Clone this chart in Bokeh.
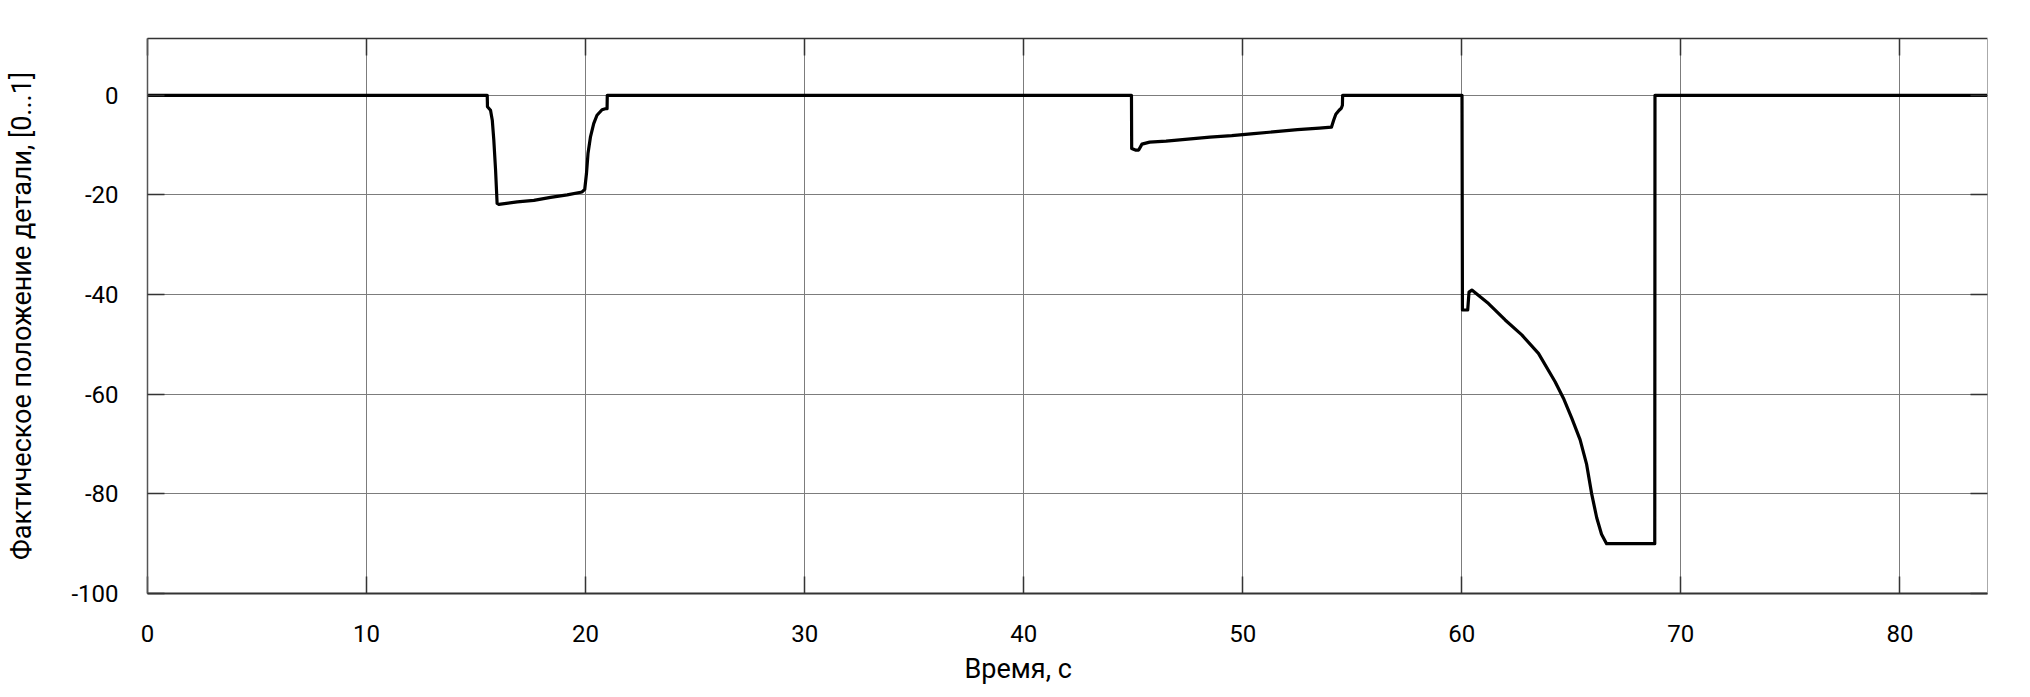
from bokeh.plotting import figure
from bokeh.models import Range1d, LinearAxis, FixedTicker, Title
from bokeh.embed import file_html
from bokeh.resources import INLINE

# ---- data ----
time_s = [0, 15.51, 15.52, 15.66, 15.74, 15.81, 15.89, 15.96, 16.04, 16.88, 17.64, 18.4, 19.16, 19.84, 19.96,
          20.04, 20.11, 20.22, 20.37, 20.52, 20.75, 20.9, 20.98, 20.99,
          44.92, 44.93, 45.1, 45.25, 45.4, 45.75, 46.5, 47.5, 48.5, 49.5, 50.5, 51.5, 52.5, 53.5, 54.05,
          54.15, 54.25, 54.4, 54.5, 54.55, 54.56,
          60.01, 60.03, 60.27, 60.33, 60.46, 61.22, 61.98, 62.74, 63.5, 64.26, 64.64, 65.02, 65.4, 65.7,
          65.93, 66.16, 66.38, 66.61, 68.81, 68.82, 84]
position = [0, 0, -2.3, -3.0, -5.0, -9.0, -15.0, -21.7, -21.9, -21.4, -21.1, -20.5, -20.0, -19.4, -18.9,
            -15.7, -11.7, -8.4, -5.7, -4.0, -2.9, -2.7, -2.7, 0,
            0, -10.7, -11.0, -11.0, -9.8, -9.4, -9.2, -8.8, -8.4, -8.1, -7.7, -7.3, -6.9, -6.6, -6.4,
            -5.0, -3.8, -3.0, -2.6, -2.0, 0,
            0, -43.1, -43.1, -39.5, -39.1, -41.8, -45.1, -48.1, -51.8, -57.5, -60.8, -64.8, -69.1, -74.1,
            -80.0, -84.8, -88.1, -90.0, -90.0, 0, 0]

x_ticks = [0, 10, 20, 30, 40, 50, 60, 70, 80]
x_tick_labels = ["0", "10", "20", "30", "40", "50", "60", "70", "80"]
y_ticks = [0, -20, -40, -60, -80, -100]
y_tick_labels = ["0", "-20", "-40", "-60", "-80", "-100"]

x_title = "Время, с"
y_title = "Фактическое положение детали, [0...1]"

FONT = "Roboto"

p = figure(width=2018, height=696, output_backend="svg", toolbar_location=None,
           x_range=Range1d(0, 84), y_range=Range1d(-100, 11.4),
           min_border_left=147, min_border_top=38, min_border_right=31, min_border_bottom=103)
p.outline_line_color = None
p.background_fill_color = "white"
p.border_fill_color = "white"

p.line(time_s, position, line_color="black", line_width=3.2, line_join="round")

# grids
p.xgrid.ticker = FixedTicker(ticks=x_ticks)
p.ygrid.ticker = FixedTicker(ticks=y_ticks)
for g in (p.xgrid, p.ygrid):
    g.grid_line_color = "#7c7c7c"
    g.grid_line_width = 1

# main axes
xa = p.xaxis[0]
ya = p.yaxis[0]
xa.ticker = FixedTicker(ticks=x_ticks)
ya.ticker = FixedTicker(ticks=y_ticks)
xa.major_label_overrides = dict(zip(x_ticks, x_tick_labels))
ya.major_label_overrides = dict(zip(y_ticks, y_tick_labels))
ya.axis_label = y_title
for ax in (xa, ya):
    ax.major_tick_in = 17
    ax.major_tick_out = 0
    ax.minor_tick_line_color = None
    ax.major_tick_line_color = "#333333"
    ax.major_tick_line_width = 1.5
    ax.major_label_text_font = FONT
    ax.major_label_text_font_size = "24px"
    ax.major_label_text_color = "black"
    ax.axis_label_text_font = FONT
    ax.axis_label_text_font_size = "27px"
    ax.axis_label_text_font_style = "normal"
    ax.axis_label_text_color = "black"
xa.major_label_standoff = 31
ya.major_label_standoff = 29
xa.axis_line_color = "#333333"
xa.axis_line_width = 2
ya.axis_line_color = "#555555"
ya.axis_line_width = 1.5
ya.axis_label_standoff = 30

# frame axes on top and right (ticks only, labels not drawn)
top = LinearAxis(ticker=FixedTicker(ticks=x_ticks), axis_line_color="#333333", axis_line_width=1.5)
right = LinearAxis(ticker=FixedTicker(ticks=y_ticks), axis_line_color="#aaaaaa", axis_line_width=1)
for ax in (top, right):
    ax.major_tick_in = 17
    ax.major_tick_out = 0
    ax.minor_tick_line_color = None
    ax.major_tick_line_color = "#333333"
    ax.major_tick_line_width = 1.5
    ax.major_label_text_font_size = "1px"
    ax.major_label_text_color = None
    ax.major_label_standoff = 0
p.add_layout(top, "above")
p.add_layout(right, "right")

# x title (sits slightly left of the frame centre, as in the reference)
p.add_layout(Title(text=x_title, align="left", offset=817, text_font=FONT, text_font_size="27px",
                   text_font_style="normal", text_color="black", vertical_align="top", standoff=16),
             "below")

open("out.html", "w").write(file_html(p, INLINE))
